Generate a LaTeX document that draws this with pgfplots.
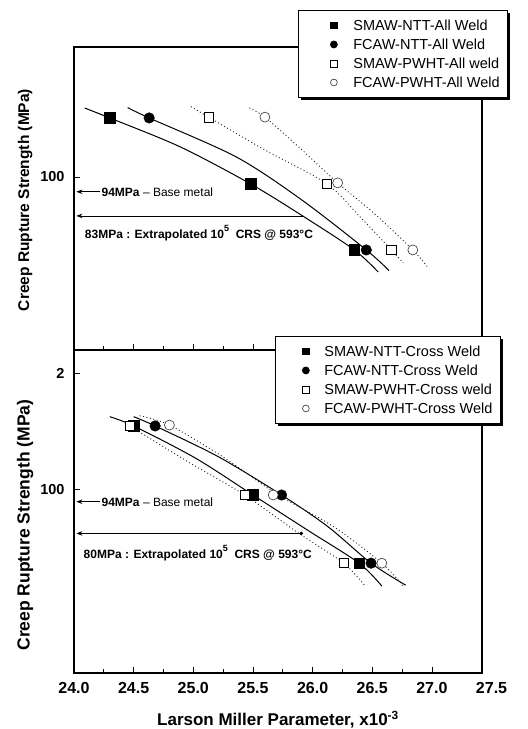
\documentclass[border=0pt]{standalone}
\usepackage{fontspec}
\setmainfont{Liberation Sans}
\usepackage{pgfplots}
\pgfplotsset{compat=1.18}
\usetikzlibrary{arrows.meta,shadows}

\pgfplotsset{
  lmp/.style={
    scale only axis, width=408bp,
    xmin=24, xmax=27.42,
    xtick={24,24.5,...,27}, minor x tick num=1,
    xtick pos=bottom, ytick pos=left,
    tick align=inside, clip mode=individual,
    major tick length=6bp, minor tick length=3.5bp,
    axis line style={line width=1.6bp},
    every tick/.style={black, line width=0.8bp},
    yticklabel style={font=\bfseries\fontsize{14.5bp}{17bp}\selectfont, xshift=-6bp},
    xticklabel style={font=\bfseries\fontsize{16bp}{18bp}\selectfont, yshift=-6bp},
    legend cell align=left,
    legend style={draw=black, line width=0.9bp, fill=white,
      inner xsep=8bp, inner ysep=7.2bp, row sep=3.4bp,
      font=\fontsize{14.5bp}{17bp}\selectfont,
      nodes={inner xsep=0pt, inner ysep=2.5bp, text height=10.6bp, text depth=0pt},
      drop shadow={shadow xshift=2.2bp, shadow yshift=-2.2bp, fill=black, opacity=1}},
  },
  fitline/.style={forget plot, black, line width=1bp, smooth},
  dotline/.style={forget plot, black!85, line width=0.9bp, dash pattern=on 1bp off 2.5bp, smooth},
  fsq/.style={only marks, mark=square*, mark size=5.3bp, black},
  fci/.style={only marks, mark=*, mark size=5.3bp, black},
  osq/.style={only marks, mark=square*, mark size=4.6bp, mark options={fill=white, draw=black, line width=0.7bp}},
  oci/.style={only marks, mark=*, mark size=5bp, mark options={fill=white, draw=black!80, line width=0.6bp}},
}

\newcommand\annfont{\bfseries\fontsize{12bp}{14bp}\selectfont}

\begin{document}
\begin{tikzpicture}
\useasboundingbox (-74bp,-56bp) rectangle (454bp,673bp);

% top panel: all weld
\begin{axis}[lmp, ymode=log, at={(0,323bp)}, height=303bp,
  ymin=35.5, ymax=217.6,
  ytick={100}, yticklabels={100},
  xticklabels={},
  ylabel={Creep Rupture Strength (MPa)},
  every axis y label/.style={at={(axis description cs:-0.12,0.495)}, rotate=90, anchor=center,
    font=\bfseries\fontsize{15.5bp}{18bp}\selectfont},
  legend style={at={(rel axis cs:0.549,1.122)}, anchor=north west},
  legend image code/.code={\path (-27bp,0pt) (19bp,0pt); \draw[#1,mark size=3.4bp] plot coordinates {(0pt,0pt)};},
]
\addplot[fitline] coordinates {(24.09,151) (24.30,142.3) (24.89,119.7) (25.48,95.9) (25.93,78.7) (26.35,64.6) (26.55,56.6)};
\addplot[fitline] coordinates {(24.45,151.4) (24.63,142.3) (25.36,112.7) (25.91,87.1) (26.45,64.6) (26.64,57.1)};
\addplot[dotline] coordinates {(24.98,152.3) (25.13,142.9) (25.60,117.5) (26.12,95.9) (26.40,78.6) (26.66,64.6) (26.76,59.8)};
\addplot[dotline] coordinates {(25.47,151.1) (25.60,143) (25.88,119.9) (26.21,96.5) (26.53,79.7) (26.84,64.6) (26.96,58.5)};

\addplot[fsq] coordinates {(24.30,142.3) (25.48,95.9) (26.35,64.6)};
\addlegendentry{SMAW-NTT-All Weld}
\addplot[fci] coordinates {(24.63,142.3) (26.45,64.6)};
\addlegendentry{FCAW-NTT-All Weld}
\addplot[osq] coordinates {(25.13,142.9) (26.12,95.9) (26.66,64.6)};
\addlegendentry{SMAW-PWHT-All weld}
\addplot[oci] coordinates {(25.60,143) (26.21,96.5) (26.84,64.6)};
\addlegendentry{FCAW-PWHT-All Weld}

\draw[-{Stealth[length=6bp,width=4.5bp]}, line width=0.7bp] (axis cs:24.22,91.5) -- (axis cs:24.02,91.5);
\node[anchor=west, inner sep=0pt, font=\fontsize{12bp}{14bp}\selectfont] at (axis cs:24.23,91.5) {\textbf{94MPa} -- Base metal};
\draw[{Stealth[length=6bp,width=4.5bp]}-, line width=0.7bp] (axis cs:24.02,79.2) -- (axis cs:25.93,79.2);
\node[anchor=west, inner sep=0pt, font=\annfont] at (axis cs:24.09,71.4) {83MPa : Extrapolated 10\raisebox{7bp}{\fontsize{9bp}{9bp}\selectfont 5}\ \ CRS @ 593°C};
\end{axis}

% bottom panel: cross weld
\begin{axis}[lmp, ymode=log, at={(0,0)}, height=323bp,
  ymin=33.3, ymax=229.6,
  ytick={100,200}, yticklabels={100,2},
  xticklabels={24.0,24.5,25.0,25.5,26.0,26.5,27.0},
  xlabel={Larson Miller Parameter, x10\textsuperscript{-3}},
  every axis x label/.style={at={(axis description cs:0.5,-0.145)}, anchor=center,
    font=\bfseries\fontsize{17bp}{20bp}\selectfont},
  ylabel={Creep Rupture Strength (MPa)},
  every axis y label/.style={at={(axis description cs:-0.12,0.458)}, rotate=90, anchor=center,
    font=\bfseries\fontsize{17.5bp}{20bp}\selectfont},
  legend style={at={(rel axis cs:0.4926,1.0433)}, anchor=north west},
  legend image code/.code={\path (-22bp,0pt) (18bp,0pt); \draw[#1,mark size=3.4bp] plot coordinates {(0pt,0pt)};},
]
\addplot[fitline] coordinates {(24.30,154.1) (24.50,145.8) (25.02,120.2) (25.50,96.5) (25.97,77.8) (26.39,64.2) (26.58,56)};
\addplot[fitline] coordinates {(24.50,154.1) (24.68,145.8) (25.21,121.3) (25.74,96.5) (26.13,79.8) (26.49,64.2) (26.78,56.3)};
\addplot[dotline] coordinates {(24.44,147.5) (24.96,117.5) (25.43,96.5) (25.87,77.3) (26.26,64.2) (26.44,56)};
\addplot[dotline] coordinates {(24.55,155) (24.80,146.6) (25.25,121.1) (25.71,96.5) (26.17,80.1) (26.58,64.2) (26.76,56)};

\addplot[fsq] coordinates {(24.50,145.8) (25.50,96.5) (26.39,64.2)};
\addlegendentry{SMAW-NTT-Cross Weld}
\addplot[fci] coordinates {(24.68,145.8) (25.74,96.5) (26.49,64.2)};
\addlegendentry{FCAW-NTT-Cross Weld}
\addplot[osq] coordinates {(24.47,145.8) (25.43,96.5) (26.26,64.2)};
\addlegendentry{SMAW-PWHT-Cross weld}
\addplot[oci] coordinates {(24.80,146.6) (25.67,96.5) (26.58,64.2)};
\addlegendentry{FCAW-PWHT-Cross Weld}

\draw[-{Stealth[length=6bp,width=4.5bp]}, line width=0.7bp] (axis cs:24.22,92.7) -- (axis cs:24.02,92.7);
\node[anchor=west, inner sep=0pt, font=\fontsize{12bp}{14bp}\selectfont] at (axis cs:24.23,92.7) {\textbf{94MPa} -- Base metal};
\draw[{Stealth[length=6bp,width=4.5bp]}-{Circle[length=3.5bp]}, line width=0.7bp] (axis cs:24.02,76.7) -- (axis cs:25.92,76.7);
\node[anchor=west, inner sep=0pt, font=\annfont] at (axis cs:24.08,68.1) {80MPa : Extrapolated 10\raisebox{7bp}{\fontsize{9bp}{9bp}\selectfont 5}\ \ CRS @ 593°C};

\node[anchor=north, font=\bfseries\fontsize{16bp}{18bp}\selectfont, inner sep=0.333em, yshift=-6bp] at (rel axis cs:1.0234,0) {27.5};
\end{axis}
\end{tikzpicture}
\end{document}
